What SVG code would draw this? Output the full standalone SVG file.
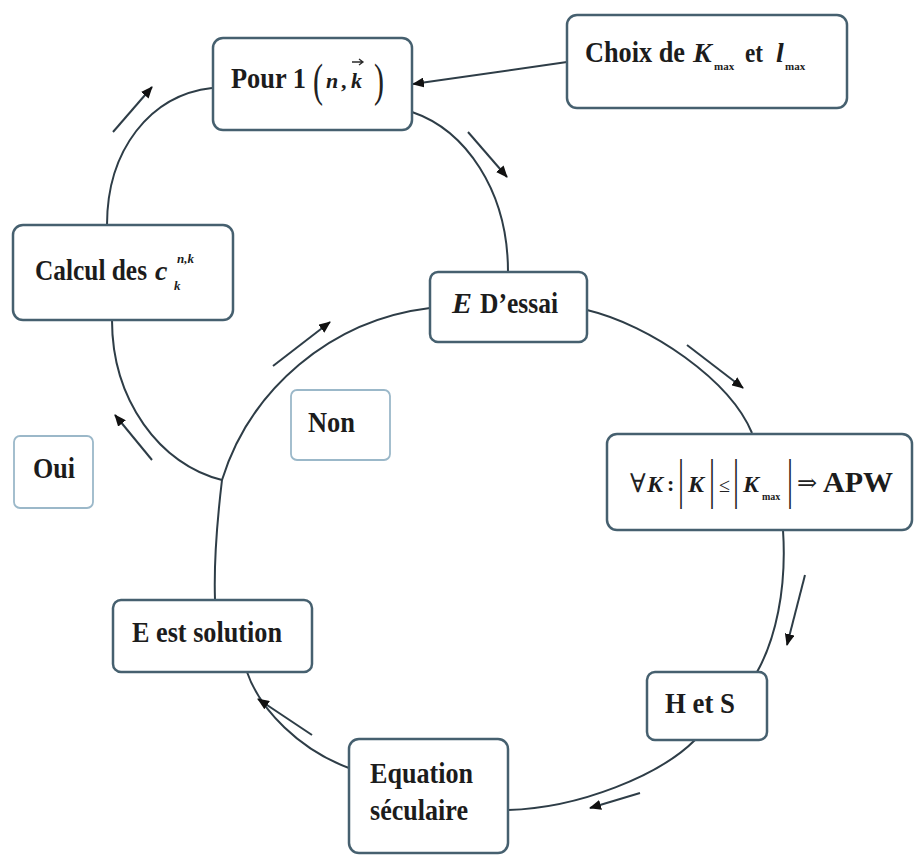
<svg xmlns="http://www.w3.org/2000/svg" width="914" height="856" viewBox="0 0 914 856">
<style>
.box{fill:#fff;stroke:#46606f;stroke-width:2.5}
.lbox{fill:#fff;stroke:#9bb8c9;stroke-width:1.8}
.t{font-family:"Liberation Serif","Times New Roman",serif;font-weight:bold;fill:#1c1c1c}
.i{font-style:italic}
.m{font-family:"Liberation Serif","DejaVu Serif",serif;font-weight:normal;fill:#222}
.c{fill:none;stroke:#2e3d47;stroke-width:2}
.a{fill:none;stroke:#2e3d47;stroke-width:2;marker-end:url(#ah)}
</style>
<defs>
<marker id="ah" viewBox="0 0 12 10" refX="11" refY="5" markerWidth="12" markerHeight="10" markerUnits="userSpaceOnUse" orient="auto">
<path d="M0,0 L12,5 L0,10 z" fill="#111"/>
</marker>
</defs>
<rect width="914" height="856" fill="#fff"/>

<g id="connectors">
<path class="c" d="M212,88 C150,95 107,150 107,225"/>
<path class="c" d="M412,112 C465,130 508,190 508,272"/>
<path class="c" d="M112,320 C112,400 160,465 222,480"/>
<path class="c" d="M222,480 C250,390 330,320 430,308"/>
<path class="c" d="M222,480 C216,530 214,570 215,600"/>
<path class="c" d="M587,310 C650,325 730,380 752,433"/>
<path class="c" d="M783,530 C787,590 775,640 757,672"/>
<path class="c" d="M695,740 C660,775 580,808 508,810"/>
<path class="c" d="M349,768 C300,750 260,710 247,672"/>
<path class="a" d="M567,62 L413,84"/>
<path class="a" d="M113,132 L152,87"/>
<path class="a" d="M468,132 L507,177"/>
<path class="a" d="M152,460 L115,415"/>
<path class="a" d="M273,366 L330,322"/>
<path class="a" d="M687,345 L743,388"/>
<path class="a" d="M805,575 L787,645"/>
<path class="a" d="M640,793 L590,808"/>
<path class="a" d="M312,735 L258,699"/>
</g>

<g id="pour">
<rect class="box" x="213" y="38" width="199" height="92" rx="10"/>
<text class="t" x="231" y="88" style="font-size:30px" textLength="75" lengthAdjust="spacingAndGlyphs">Pour 1</text>
<text class="m" x="313" y="96" style="font-size:46px" textLength="10" lengthAdjust="spacingAndGlyphs">(</text>
<text class="t i" x="326" y="88" style="font-size:22px">n</text>
<text class="t" x="341" y="88" style="font-size:22px">,</text>
<text class="t i" x="351" y="88" style="font-size:22px">k</text>
<path d="M352,62 L363,62 M359,59 L363,62 L359,65" fill="none" stroke="#2a2a2a" stroke-width="1.3"/>
<text class="m" x="374" y="96" style="font-size:46px" textLength="10" lengthAdjust="spacingAndGlyphs">)</text>
</g>

<g id="choix">
<rect class="box" x="567" y="15" width="280" height="93" rx="10"/>
<text class="t" x="585" y="62" style="font-size:30px" textLength="100" lengthAdjust="spacingAndGlyphs">Choix de</text>
<text class="t i" x="693" y="62" style="font-size:28px">K</text>
<text class="t" x="714" y="70" style="font-size:11px">max</text>
<text class="t" x="745" y="62" style="font-size:28px" textLength="18" lengthAdjust="spacingAndGlyphs">et</text>
<text class="t i" x="776" y="62" style="font-size:28px">l</text>
<text class="t" x="785" y="70" style="font-size:11px">max</text>
</g>

<g id="calcul">
<rect class="box" x="13" y="225" width="220" height="95" rx="10"/>
<text class="t" x="35" y="280" style="font-size:30px" textLength="112" lengthAdjust="spacingAndGlyphs">Calcul des</text>
<text class="t i" x="155" y="280" style="font-size:28px">c</text>
<text class="t i" x="177" y="263" style="font-size:13px">n,k</text>
<text class="t i" x="174" y="290" style="font-size:13px">k</text>
</g>

<g id="essai">
<rect class="box" x="430" y="272" width="157" height="70" rx="8"/>
<text class="t i" x="452" y="313" style="font-size:30px">E</text>
<text class="t" x="480" y="313" style="font-size:30px" textLength="78" lengthAdjust="spacingAndGlyphs">D’essai</text>
</g>

<g id="apw">
<rect class="box" x="607" y="434" width="305" height="96" rx="10"/>
<text class="m" x="630" y="492" style="font-size:26px">∀</text>
<text class="t i" x="647" y="492" style="font-size:24px">K</text>
<text class="t" x="667" y="491" style="font-size:22px">:</text>
<text class="m" x="678" y="497" style="font-size:54px" textLength="6" lengthAdjust="spacingAndGlyphs">|</text>
<text class="t i" x="688" y="492" style="font-size:24px">K</text>
<text class="m" x="709" y="497" style="font-size:54px" textLength="6" lengthAdjust="spacingAndGlyphs">|</text>
<text class="m" x="719" y="492" style="font-size:20px">≤</text>
<text class="m" x="733" y="497" style="font-size:54px" textLength="6" lengthAdjust="spacingAndGlyphs">|</text>
<text class="t i" x="743" y="492" style="font-size:24px">K</text>
<text class="t" x="762" y="500" style="font-size:10px">max</text>
<text class="m" x="787" y="497" style="font-size:54px" textLength="6" lengthAdjust="spacingAndGlyphs">|</text>
<text class="m" x="797" y="491" style="font-size:24px">⇒</text>
<text class="t" x="823" y="492" style="font-size:30px" textLength="70" lengthAdjust="spacingAndGlyphs">APW</text>
</g>

<g id="non">
<rect class="lbox" x="291" y="390" width="99" height="70" rx="6"/>
<text class="t" x="308" y="432" style="font-size:30px" textLength="47" lengthAdjust="spacingAndGlyphs">Non</text>
</g>

<g id="oui">
<rect class="lbox" x="14" y="436" width="79" height="72" rx="6"/>
<text class="t" x="33" y="478" style="font-size:30px" textLength="42" lengthAdjust="spacingAndGlyphs">Oui</text>
</g>

<g id="solution">
<rect class="box" x="113" y="600" width="199" height="72" rx="8"/>
<text class="t" x="132" y="642" style="font-size:30px" textLength="150" lengthAdjust="spacingAndGlyphs">E est solution</text>
</g>

<g id="hs">
<rect class="box" x="647" y="672" width="120" height="68" rx="8"/>
<text class="t" x="665" y="713" style="font-size:30px" textLength="70" lengthAdjust="spacingAndGlyphs">H et S</text>
</g>

<g id="equation">
<rect class="box" x="349" y="739" width="159" height="114" rx="10"/>
<text class="t" x="370" y="783" style="font-size:30px" textLength="103" lengthAdjust="spacingAndGlyphs">Equation</text>
<text class="t" x="370" y="820" style="font-size:30px" textLength="98" lengthAdjust="spacingAndGlyphs">séculaire</text>
</g>
</svg>
